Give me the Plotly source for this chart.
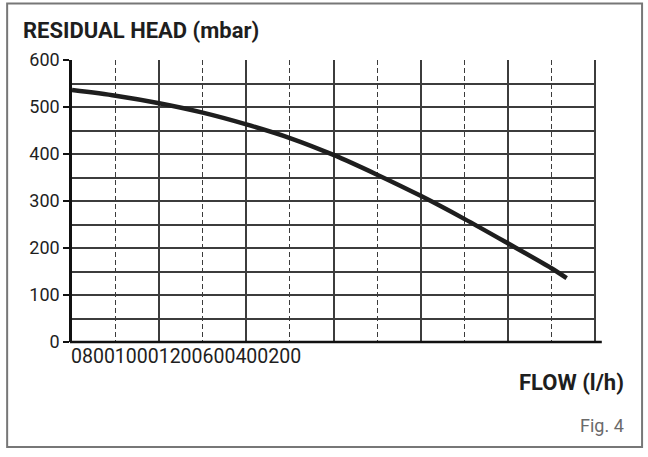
import plotly.graph_objects as go

flow = [0, 200, 400, 600, 800, 1000, 1200, 1400, 1600, 1800, 2000, 2200, 2270]
head = [536, 524, 508, 488, 463, 434, 398, 356, 311, 262, 210, 157, 136]
y_ticks = [0, 100, 200, 300, 400, 500, 600]
x_label_text = "080010001200600400200"

FONT = "Roboto"
GRID = "#3c3c3c"
fig = go.Figure()
fig.add_trace(go.Scatter(x=flow, y=head, mode="lines",
                         line=dict(color="#1e1e1e", width=4.5, shape="spline", smoothing=0.8),
                         showlegend=False, hoverinfo="skip"))

fig.update_layout(
    width=648, height=457,
    margin=dict(l=72, r=53, t=60, b=115),
    paper_bgcolor="white", plot_bgcolor="white",
    font=dict(family=FONT, color="#1e1e1e"),
    xaxis=dict(range=[0, 2400], dtick=400, showgrid=True, gridcolor=GRID, gridwidth=2,
               showticklabels=False, ticks="", zeroline=False, automargin=False,
               showline=False,
               minor=dict(dtick=200, showgrid=True, gridcolor=GRID, gridwidth=1.4, griddash="5px,3px")),
    yaxis=dict(range=[0, 600], tickvals=y_ticks, showgrid=True, gridcolor=GRID, gridwidth=1.8,
               ticks="outside", ticklen=6, tickwidth=1.8, tickcolor="#111",
               tickfont=dict(size=18, family=FONT, color="#1e1e1e"),
               zeroline=False, showline=True, linecolor="#111", linewidth=2.5, automargin=False,
               minor=dict(dtick=50, showgrid=True, gridcolor=GRID, gridwidth=1.8)),
    shapes=[
        dict(type="rect", xref="paper", yref="paper", x0=-0.124, x1=1.09, y0=-0.372, y1=1.2,
             line=dict(color="#777", width=2)),
        dict(type="line", xref="paper", yref="paper", x0=1, x1=1, y0=0, y1=1,
             line=dict(color=GRID, width=2)),
        dict(type="line", xref="paper", yref="paper", x0=-0.004, x1=1.013, y0=0, y1=0,
             line=dict(color="#111", width=2.5)),
    ],
    annotations=[
        dict(text="<b>RESIDUAL HEAD (mbar)</b>", xref="paper", yref="paper", x=-0.097, y=1.103,
             xanchor="left", yanchor="middle", showarrow=False, font=dict(size=22, family=FONT, color="#1e1e1e")),
        dict(text=x_label_text, xref="paper", yref="paper", x=-0.006, y=-0.005,
             xanchor="left", yanchor="top", showarrow=False, font=dict(size=19.5, family=FONT, color="#1e1e1e")),
        dict(text="<b>FLOW (l/h)</b>", xref="paper", yref="paper", x=1.06, y=-0.145,
             xanchor="right", yanchor="middle", showarrow=False, font=dict(size=22, family=FONT, color="#1e1e1e")),
        dict(text="Fig. 4", xref="paper", yref="paper", x=1.06, y=-0.295,
             xanchor="right", yanchor="middle", showarrow=False, font=dict(size=18, family=FONT, color="#6a6a6a")),
    ],
)
fig.write_html("out.html")
